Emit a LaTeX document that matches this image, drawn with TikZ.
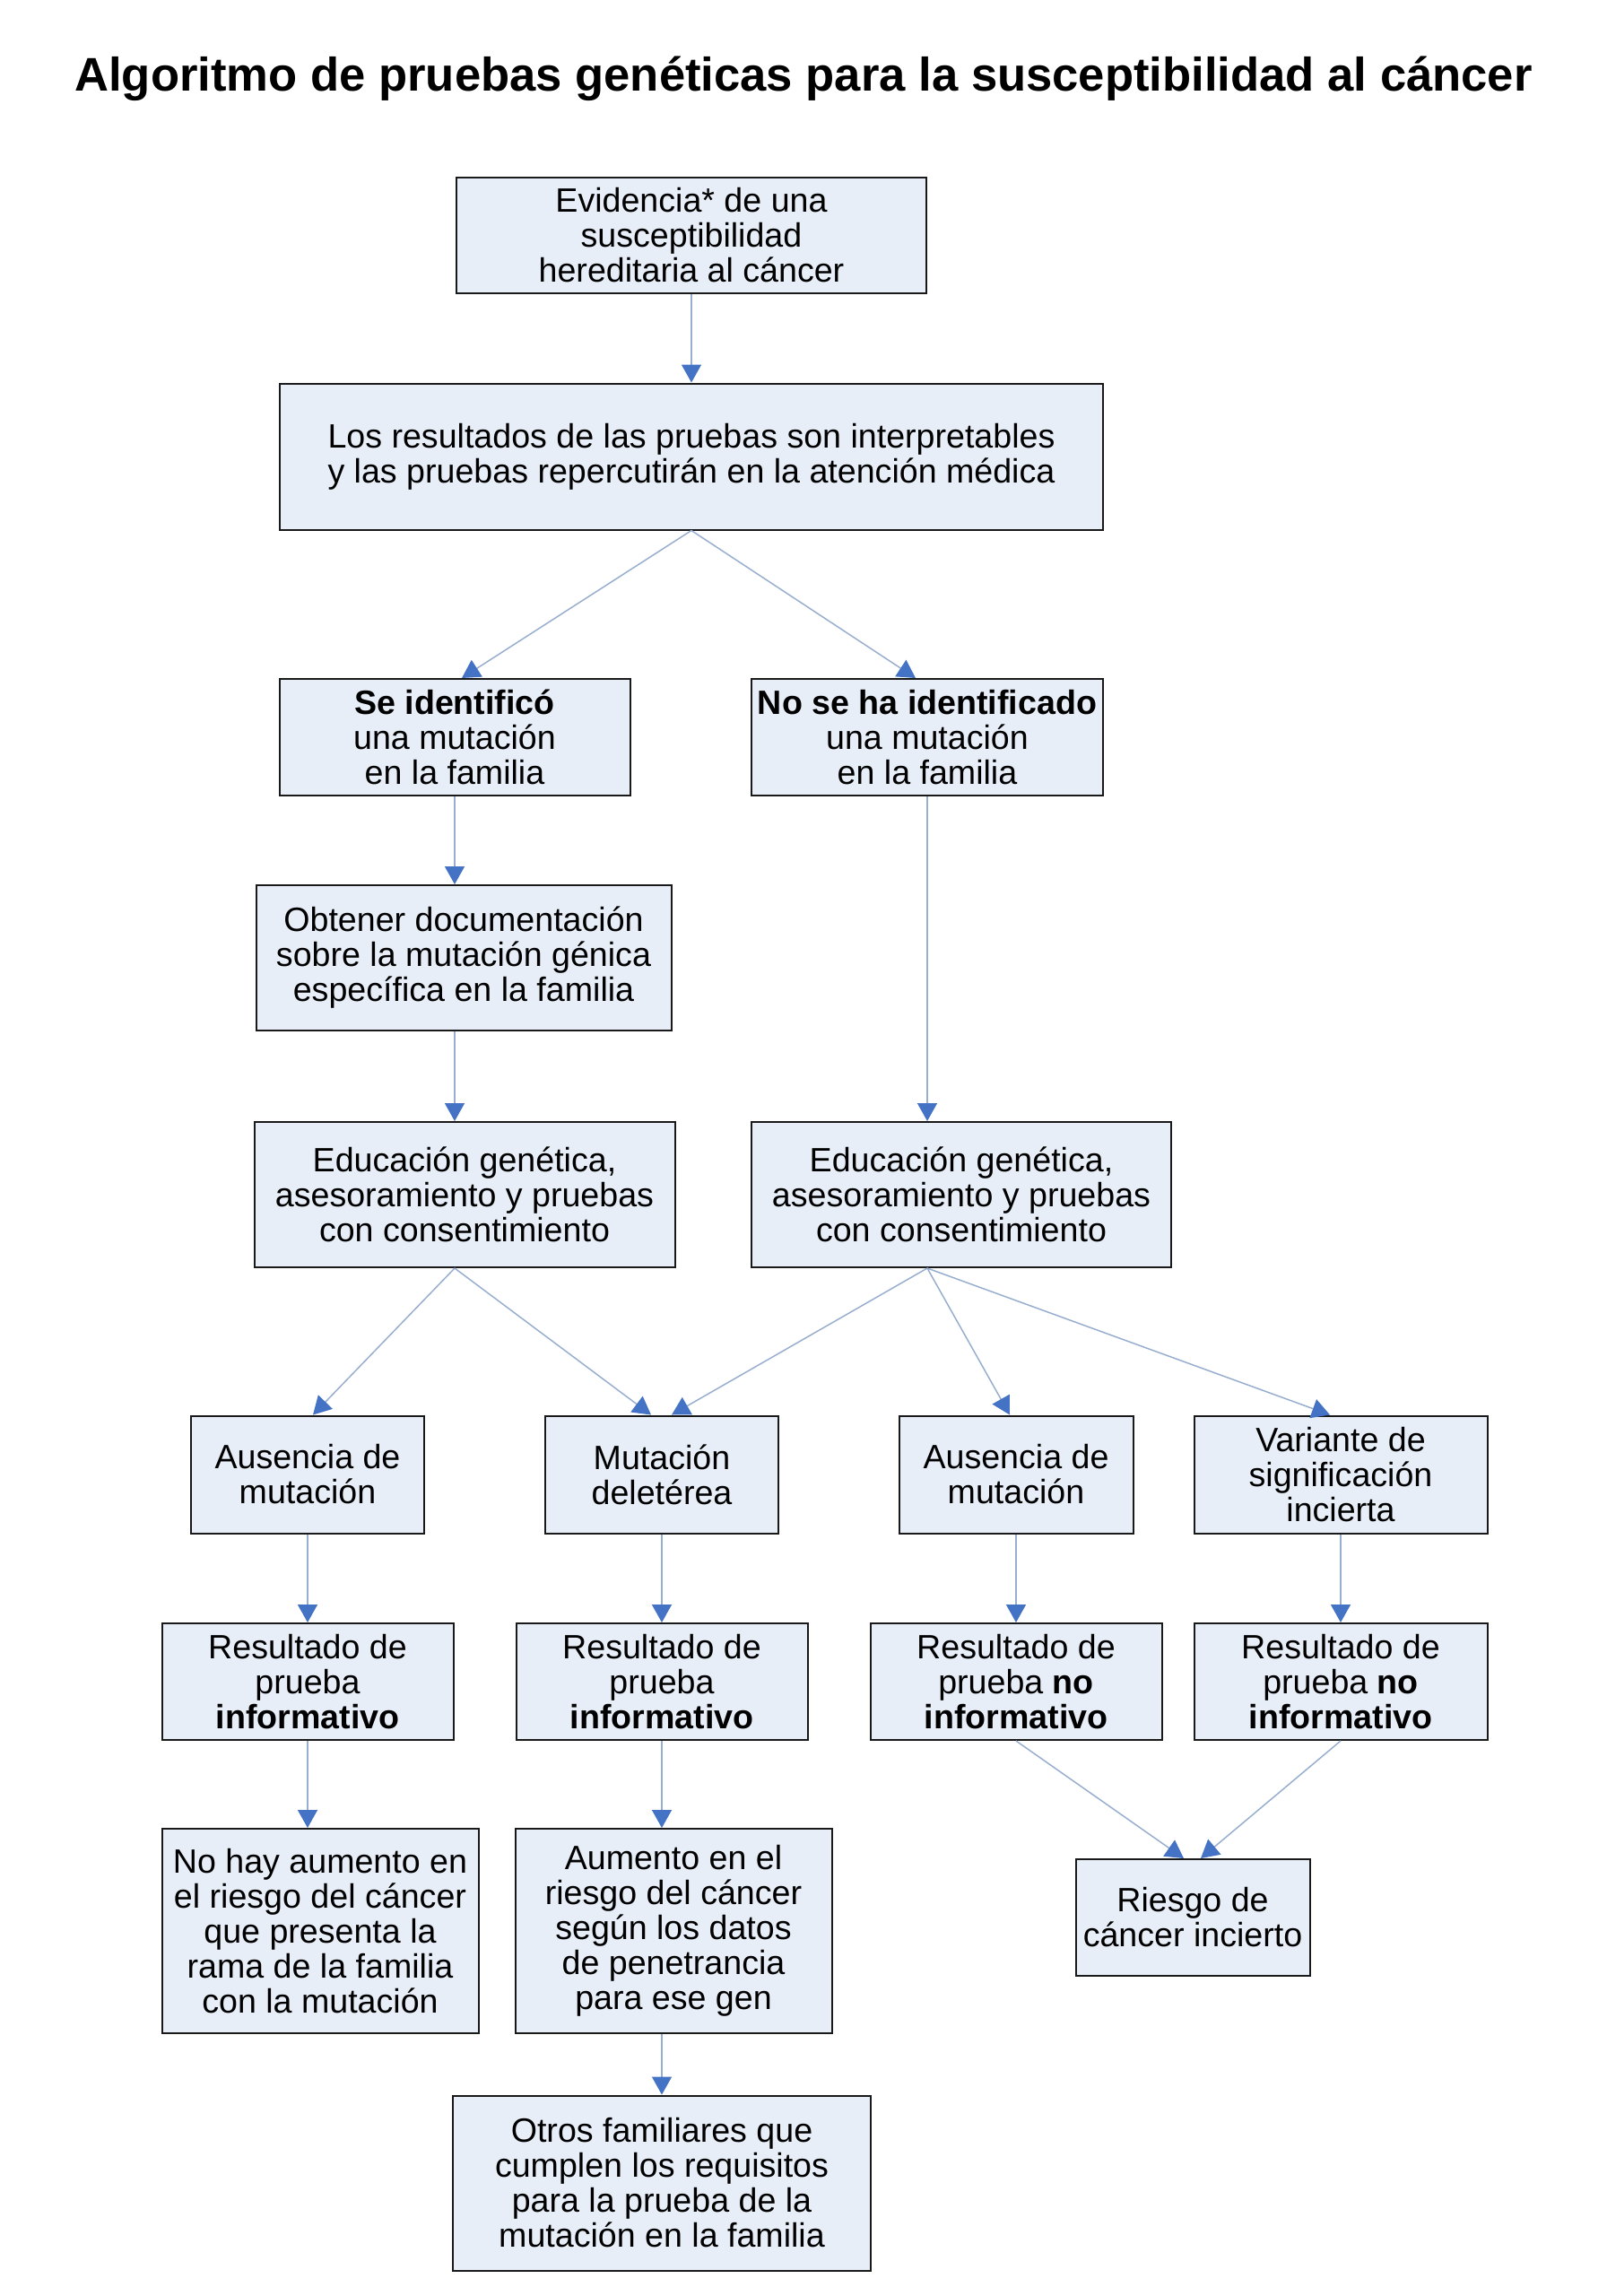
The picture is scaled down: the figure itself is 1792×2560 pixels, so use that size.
\documentclass[tikz,border=0pt]{standalone}
\usepackage{fontspec}
\setmainfont{Liberation Sans}
\usepackage{xcolor}
\usepackage{tikz}
\usetikzlibrary{arrows.meta,calc,positioning}
\definecolor{boxfill}{HTML}{E8EEF8}
\definecolor{linecol}{HTML}{98AECF}
\definecolor{tipcol}{HTML}{4472C4}
\tikzset{
    box/.style={draw=black!90, line width=1pt, fill=boxfill, align=center, inner sep=0pt,
        font=\fontsize{18.8}{19.5}\selectfont},
    flow/.style={draw=linecol, line width=0.75pt, -{Triangle[length=10pt,width=11pt,color=tipcol]}}
}

\begin{document}
\begin{tikzpicture}[x=0.5pt,y=-0.5pt]
    \useasboundingbox (0,0) rectangle (1792,2560);

    % Title
    \node (title) at (896,88) {\fontsize{26.3}{30}\selectfont\bfseries Algoritmo de pruebas genéticas para la susceptibilidad al cáncer};

    % Top of the algorithm
    \node[box, minimum width=262pt, minimum height=64.5pt] (evid) at (771,262) {Evidencia* de una\\susceptibilidad\\hereditaria al cáncer};
    \node[box, minimum width=459pt, minimum height=81.5pt] (interp) at (771,509) {Los resultados de las pruebas son interpretables\\y las pruebas repercutirán en la atención médica};

    % Family mutation known or not
    \node[box, minimum width=195.5pt, minimum height=65pt] (sid) at (507,822) {\textbf{Se identificó}\\una mutación\\en la familia};
    \node[box, minimum width=196pt, minimum height=65pt] (nid) at (1034,822) {\textbf{No se ha identificado}\\una mutación\\en la familia};
    \node[box, minimum width=231.5pt, minimum height=81pt] (obt) at (517,1068) {Obtener documentación\\sobre la mutación génica\\específica en la familia};
    \node[box, minimum width=234.5pt, minimum height=81pt] (edl) at (518,1332) {Educación genética,\\asesoramiento y pruebas\\con consentimiento};
    \node[box, minimum width=234pt, minimum height=81pt] (edr) at (1072,1332) {Educación genética,\\asesoramiento y pruebas\\con consentimiento};

    % Test outcomes
    \node[box, minimum width=130pt, minimum height=65.5pt] (ausl) at (343,1644) {Ausencia de\\mutación};
    \node[box, minimum width=130pt, minimum height=65.5pt] (mut) at (738,1644) {Mutación\\deletérea};
    \node[box, minimum width=130.5pt, minimum height=65.5pt] (ausr) at (1133,1644) {Ausencia de\\mutación};
    \node[box, minimum width=163.5pt, minimum height=65.5pt] (var) at (1495,1644) {Variante de\\significación\\incierta};

    % Result of the test
    \node[box, minimum width=162.5pt, minimum height=65pt] (r1) at (343,1875) {Resultado de\\prueba\\\textbf{informativo}};
    \node[box, minimum width=162.5pt, minimum height=65pt] (r2) at (738,1875) {Resultado de\\prueba\\\textbf{informativo}};
    \node[box, minimum width=162.5pt, minimum height=65pt] (r3) at (1133,1875) {Resultado de\\prueba \textbf{no}\\\textbf{informativo}};
    \node[box, minimum width=163.5pt, minimum height=65pt] (r4) at (1495,1875) {Resultado de\\prueba \textbf{no}\\\textbf{informativo}};

    % Risk
    \node[box, minimum width=176.5pt, minimum height=114pt] (nohay) at (357,2153) {No hay aumento en\\el riesgo del cáncer\\que presenta la\\rama de la familia\\con la mutación};
    \node[box, minimum width=176.5pt, minimum height=114pt] (aum) at (751,2153) {Aumento en el\\riesgo del cáncer\\según los datos\\de penetrancia\\para ese gen};
    \node[box, minimum width=130.5pt, minimum height=65pt] (riesgo) at (1330,2138) {Riesgo de\\cáncer incierto};
    \node[box, minimum width=233pt, minimum height=97.5pt] (otros) at (738,2434) {Otros familiares que\\cumplen los requisitos\\para la prueba de la\\mutación en la familia};

    % Connectors
    \draw[flow] (evid.south) -- (interp.north);
    \draw[flow] (interp.south) -- ([xshift=4pt]sid.north);
    \draw[flow] (interp.south) -- ([xshift=-6.5pt]nid.north);
    \draw[flow] (sid.south) -- (sid.south |- obt.north);
    \draw[flow] (sid.south |- obt.south) -- (sid.south |- edl.north);
    \draw[flow] (nid.south) -- (nid.south |- edr.north);
    \draw[flow] (sid.south |- edl.south) -- ([xshift=3pt]ausl.north);
    \draw[flow] (sid.south |- edl.south) -- ([xshift=-6pt]mut.north);
    \draw[flow] (nid.south |- edr.south) -- ([xshift=5.5pt]mut.north);
    \draw[flow] (nid.south |- edr.south) -- ([xshift=-3.5pt]ausr.north);
    \draw[flow] (nid.south |- edr.south) -- ([xshift=-6pt]var.north);
    \draw[flow] (ausl.south) -- (r1.north);
    \draw[flow] (mut.south) -- (r2.north);
    \draw[flow] (ausr.south) -- (r3.north);
    \draw[flow] (var.south) -- (r4.north);
    \draw[flow] (r1.south) -- (r1.south |- nohay.north);
    \draw[flow] (r2.south) -- (r2.south |- aum.north);
    \draw[flow] (otros.north |- aum.south) -- (otros.north);
    \draw[flow] (r3.south) -- ([xshift=-5pt]riesgo.north);
    \draw[flow] (r4.south) -- ([xshift=4.5pt]riesgo.north);
\end{tikzpicture}
\end{document}
